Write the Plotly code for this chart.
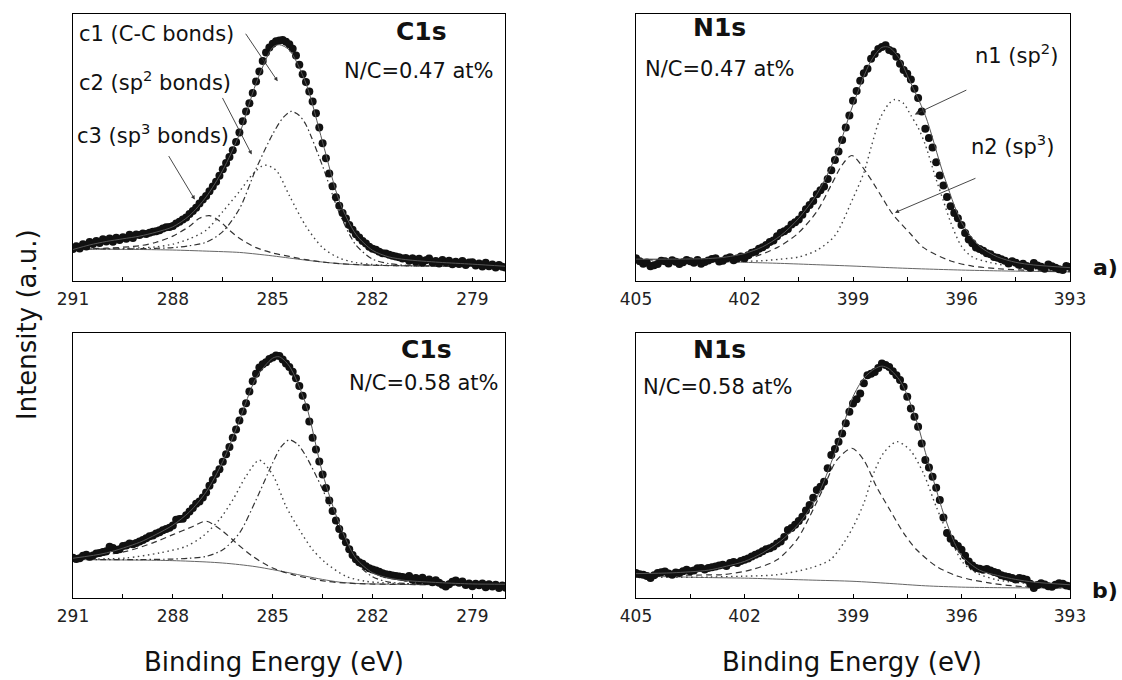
import plotly.graph_objects as go

# ---------------- energy grids of the measured spectra (eV) ----------------
C1S_E = [291.0, 290.9, 290.8, 290.7, 290.6, 290.5, 290.4, 290.3, 290.2, 290.1,
         290.0, 289.9, 289.8, 289.7, 289.6, 289.5, 289.4, 289.3, 289.2, 289.1,
         289.0, 288.9, 288.8, 288.7, 288.6, 288.5, 288.4, 288.3, 288.2, 288.1,
         288.0, 287.9, 287.8, 287.7, 287.6, 287.5, 287.4, 287.3, 287.2, 287.1,
         287.0, 286.9, 286.8, 286.7, 286.6, 286.5, 286.4, 286.3, 286.2, 286.1,
         286.0, 285.9, 285.8, 285.7, 285.6, 285.5, 285.4, 285.3, 285.2, 285.1,
         285.0, 284.9, 284.8, 284.7, 284.6, 284.5, 284.4, 284.3, 284.2, 284.1,
         284.0, 283.9, 283.8, 283.7, 283.6, 283.5, 283.4, 283.3, 283.2, 283.1,
         283.0, 282.9, 282.8, 282.7, 282.6, 282.5, 282.4, 282.3, 282.2, 282.1,
         282.0, 281.9, 281.8, 281.7, 281.6, 281.5, 281.4, 281.3, 281.2, 281.1,
         281.0, 280.9, 280.8, 280.7, 280.6, 280.5, 280.4, 280.3, 280.2, 280.1,
         280.0, 279.9, 279.8, 279.7, 279.6, 279.5, 279.4, 279.3, 279.2, 279.1,
         279.0, 278.9, 278.8, 278.7, 278.6, 278.5, 278.4, 278.3, 278.2, 278.1,
         278.0]
N1S_E = [405.0, 404.9, 404.8, 404.7, 404.6, 404.5, 404.4, 404.3, 404.2, 404.1,
         404.0, 403.9, 403.8, 403.7, 403.6, 403.5, 403.4, 403.3, 403.2, 403.1,
         403.0, 402.9, 402.8, 402.7, 402.6, 402.5, 402.4, 402.3, 402.2, 402.1,
         402.0, 401.9, 401.8, 401.7, 401.6, 401.5, 401.4, 401.3, 401.2, 401.1,
         401.0, 400.9, 400.8, 400.7, 400.6, 400.5, 400.4, 400.3, 400.2, 400.1,
         400.0, 399.9, 399.8, 399.7, 399.6, 399.5, 399.4, 399.3, 399.2, 399.1,
         399.0, 398.9, 398.8, 398.7, 398.6, 398.5, 398.4, 398.3, 398.2, 398.1,
         398.0, 397.9, 397.8, 397.7, 397.6, 397.5, 397.4, 397.3, 397.2, 397.1,
         397.0, 396.9, 396.8, 396.7, 396.6, 396.5, 396.4, 396.3, 396.2, 396.1,
         396.0, 395.9, 395.8, 395.7, 395.6, 395.5, 395.4, 395.3, 395.2, 395.1,
         395.0, 394.9, 394.8, 394.7, 394.6, 394.5, 394.4, 394.3, 394.2, 394.1,
         394.0, 393.9, 393.8, 393.7, 393.6, 393.5, 393.4, 393.3, 393.2, 393.1,
         393.0]

# ---------------- measured intensities (a.u.) ----------------
C1S_A = [12.0, 13.0, 12.2, 13.8, 12.9, 14.6, 13.9, 15.0, 14.2, 15.6,
         14.8, 15.9, 14.7, 16.2, 15.4, 16.4, 15.8, 17.3, 16.1, 17.4,
         17.2, 17.8, 17.6, 18.1, 18.4, 18.6, 19.0, 19.7, 20.1, 20.2,
         20.6, 21.5, 22.2, 23.0, 23.8, 25.1, 26.2, 27.4, 29.0, 30.5,
         31.8, 33.6, 35.4, 37.2, 39.4, 41.9, 44.2, 46.4, 49.0, 52.1,
         55.6, 59.8, 63.5, 66.6, 70.4, 74.7, 78.5, 82.4, 85.6, 87.5,
         88.9, 89.8, 90.1, 90.3, 89.6, 88.7, 87.0, 84.5, 81.0, 77.4,
         74.5, 71.0, 67.2, 62.8, 57.5, 51.6, 46.0, 40.3, 35.5, 31.4,
         28.2, 25.5, 23.4, 21.0, 19.2, 17.5, 16.3, 15.0, 14.0, 12.8,
         12.1, 11.7, 11.0, 10.4, 10.3, 9.8, 9.5, 9.2, 8.9, 8.4,
         8.6, 7.6, 8.5, 7.2, 8.3, 6.9, 7.8, 8.4, 6.9, 7.5,
         6.6, 7.9, 7.0, 7.6, 6.3, 7.2, 6.4, 7.5, 6.0, 6.9,
         7.0, 5.8, 6.6, 5.4, 6.8, 5.5, 6.2, 5.1, 6.0, 5.3,
         5.0]
N1S_A = [8.5, 7.4, 6.5, 6.9, 5.5, 5.9, 6.4, 7.6, 7.4, 6.6,
         7.8, 7.2, 6.4, 7.0, 7.9, 7.4, 6.8, 7.9, 6.5, 7.1,
         7.7, 8.2, 8.5, 7.3, 7.6, 8.4, 8.9, 7.8, 8.4, 9.2,
         8.5, 9.6, 10.6, 11.0, 12.1, 12.6, 13.5, 14.6, 15.2, 16.8,
         18.1, 18.6, 19.5, 21.2, 22.0, 23.0, 24.8, 26.9, 28.5, 30.0,
         32.5, 34.0, 35.4, 38.2, 41.5, 45.3, 48.5, 52.8, 57.5, 62.0,
         67.5, 71.2, 75.0, 77.8, 79.5, 83.2, 85.0, 86.9, 87.6, 88.3,
         86.5, 86.0, 84.0, 81.4, 79.0, 77.6, 75.5, 72.0, 68.5, 63.5,
         57.0, 53.6, 50.0, 44.5, 39.5, 35.8, 31.5, 28.0, 25.5, 23.5,
         21.0, 18.0, 15.5, 14.1, 12.5, 12.0, 11.3, 10.4, 10.0, 9.0,
         8.7, 8.1, 7.6, 6.6, 7.4, 6.8, 6.0, 6.5, 5.6, 5.0,
         6.7, 5.8, 5.3, 4.6, 6.2, 5.5, 5.0, 4.4, 4.1, 5.6,
         5.2]
C1S_B = [15.2, 14.7, 15.0, 15.9, 16.3, 15.6, 16.0, 16.8, 17.0, 17.4,
         17.6, 19.3, 18.9, 18.1, 18.4, 19.6, 19.8, 20.6, 20.3, 20.8,
         21.3, 21.9, 22.5, 23.3, 23.6, 24.3, 24.8, 25.6, 26.0, 26.5,
         27.4, 29.5, 29.8, 29.9, 31.2, 32.6, 34.0, 35.6, 36.4, 37.9,
         39.8, 42.4, 44.5, 46.8, 48.6, 51.4, 54.2, 57.0, 60.5, 63.6,
         67.0, 70.4, 73.5, 77.9, 81.8, 84.6, 87.0, 88.2, 89.0, 90.2,
         90.8, 91.5, 91.3, 90.0, 88.5, 87.2, 85.4, 82.9, 80.0, 76.3,
         72.0, 66.6, 60.5, 56.0, 51.5, 46.6, 41.5, 36.8, 32.8, 29.2,
         26.0, 23.4, 21.0, 18.4, 16.2, 14.6, 13.5, 12.9, 12.0, 11.2,
         10.8, 10.4, 9.9, 9.3, 9.0, 8.8, 8.5, 8.3, 8.1, 7.9,
         7.6, 8.3, 6.9, 7.5, 6.6, 7.6, 6.4, 7.0, 5.9, 6.7,
         5.8, 5.0, 4.3, 5.2, 6.1, 6.6, 5.8, 6.2, 4.9, 5.5,
         4.4, 5.4, 4.8, 5.5, 4.1, 5.2, 4.3, 5.0, 3.8, 4.7,
         3.9]
N1S_B = [9.4, 9.0, 8.8, 8.3, 7.5, 8.6, 9.4, 9.7, 10.0, 9.2,
         8.8, 9.6, 9.4, 10.1, 10.7, 10.1, 10.4, 11.2, 11.3, 10.8,
         11.3, 11.6, 11.9, 12.3, 12.5, 12.1, 13.2, 13.6, 13.2, 14.0,
         14.4, 14.9, 15.7, 16.3, 16.9, 17.6, 18.4, 18.8, 19.4, 20.6,
         21.3, 23.0, 25.7, 26.4, 27.6, 29.1, 30.7, 33.0, 35.1, 37.8,
         40.8, 42.0, 43.9, 49.0, 54.0, 56.2, 59.0, 62.1, 65.9, 70.3,
         73.4, 75.0, 77.2, 81.0, 84.1, 84.6, 85.3, 86.8, 88.5, 87.9,
         87.2, 85.6, 84.1, 82.3, 79.7, 75.9, 71.5, 68.4, 64.6, 58.3,
         52.1, 49.2, 45.8, 41.6, 37.0, 30.4, 24.5, 22.4, 20.7, 19.6,
         18.2, 15.9, 13.8, 12.3, 11.3, 11.0, 10.7, 10.9, 10.4, 9.8,
         9.4, 8.6, 8.2, 7.9, 7.5, 7.0, 7.5, 7.3, 6.9, 5.4,
         3.8, 4.9, 5.6, 5.1, 4.4, 4.2, 5.0, 5.6, 5.4, 4.7,
         4.4]

# ---------------- fitted curves, sample (energy, intensity) ----------------
# panel a), C1s
ENV_AC_E = [291, 290.5, 290, 289.5, 289, 288.5, 288, 287.5, 287, 286.5, 286, 285.5,
            285, 284.8, 284.5, 284, 283.5, 283, 282.5, 282, 281.5, 281, 280, 279, 278]
ENV_AC = [11.8, 13.5, 14.8, 15.8, 16.8, 18.3, 20.3, 24.5, 31.5, 41.5, 55, 74,
          87.5, 88.5, 86.5, 74, 52, 30, 17.5, 11.5, 9, 8, 7, 6.3, 5.5]
BG_AC_E = [291, 290, 289, 288, 287, 286, 285.5, 285, 284.5, 284, 283.5, 283,
           282.5, 282, 281, 280, 279, 278]
BG_AC = [12, 11.9, 11.8, 11.6, 11.2, 10.7, 10.1, 9.4, 8.6, 7.8, 7.1, 6.5,
         6.1, 5.9, 5.7, 5.6, 5.5, 5.4]
C1_AC_E = [291, 290, 289, 288, 287.5, 287, 286.5, 286, 285.5, 285, 284.7, 284.45,
           284.2, 284, 283.5, 283, 282.5, 282, 281.5, 281, 280, 279, 278]
C1_AC = [12, 12, 12.1, 12.5, 13.2, 14.5, 18.5, 27, 42, 55, 61, 63.5,
         62, 58.5, 43, 25.5, 13.5, 8.2, 6.5, 5.9, 5.6, 5.5, 5.4]
C2_AC_E = [291, 290, 289, 288.5, 288, 287.5, 287, 286.5, 286, 285.6, 285.25, 284.9,
           284.5, 284, 283.5, 283, 282.5, 282, 281, 280, 278]
C2_AC = [12, 12.1, 12.4, 12.8, 13.8, 15.8, 19, 26, 33.5, 40, 43.4, 41.5,
         32, 20.5, 12.5, 8.6, 6.9, 6.2, 5.7, 5.6, 5.4]
C3_AC_E = [291, 290, 289, 288.5, 288, 287.5, 287.2, 286.9, 286.6, 286.3, 286, 285.5,
           285, 284.5, 284, 283.5, 283, 282, 280, 278]
C3_AC = [12, 12.3, 13.2, 14.5, 16.8, 20.5, 23.5, 24.5, 22.5, 19, 16, 12.5,
         10.5, 9.2, 8, 7.1, 6.5, 5.9, 5.6, 5.4]

# panel a), N1s
ENV_AN_E = [405, 404, 403, 402.5, 402, 401.5, 401, 400.5, 400, 399.5, 399, 398.5,
            398.2, 398, 397.7, 397.5, 397, 396.5, 396, 395.5, 395, 394.5, 394, 393]
ENV_AN = [8.2, 8.2, 8.4, 9, 10.3, 12.8, 17, 23.5, 32.5, 46, 66, 82.5,
          87.5, 87.5, 83, 77, 62, 40, 22, 13, 9, 7, 6, 5]
BG_AN_E = [405, 404, 403, 402, 401, 400, 399, 398, 397, 396, 395, 394, 393]
BG_AN = [8.1, 7.8, 7.4, 7, 6.6, 6.1, 5.6, 5.0, 4.5, 4.1, 3.8, 3.6, 3.4]
N1_AN_E = [405, 404, 403, 402, 401.5, 401, 400.5, 400, 399.5, 399, 398.7, 398.5,
           398.25, 398, 397.84, 397.6, 397.4, 397.2, 397, 396.7, 396.5, 396.3, 396,
           395.7, 395.2, 394.5, 394, 393]
N1_AN = [8, 7.8, 7.5, 7.4, 7.6, 8.2, 9, 11.5, 17, 31, 40.5, 50,
         61, 66.5, 68, 66.5, 62, 57.5, 51, 38, 30, 22, 13,
         9, 6.9, 5.3, 4.6, 3.5]
N2_AN_E = [405, 404, 403, 402, 401.8, 401.1, 400.55, 400, 399.6, 399.3, 399.03, 398.6,
           398.25, 397.9, 397.4, 397.05, 396.3, 395.7, 395, 394, 393]
N2_AN = [8, 8, 8.2, 8.6, 8.8, 12.5, 17.5, 26, 36, 43.5, 47, 40,
         32.5, 25, 17.5, 12.5, 7.5, 5.6, 4.6, 3.9, 3.5]

# panel b), C1s
ENV_BC_E = [291, 290, 289, 288.5, 288, 287.5, 287, 286.5, 286, 285.5, 285, 284.8,
            284.5, 284, 283.5, 283, 282.5, 282, 281.5, 281, 280, 279, 278]
ENV_BC = [15, 17, 21, 24, 27.5, 32.5, 40, 51.5, 67, 83, 90.5, 91,
          87.5, 73, 47, 28, 15, 9.5, 7.5, 6.6, 5.8, 5.3, 5.2]
BG_BC_E = [291, 290, 289, 288, 287, 286.5, 286, 285.5, 285, 284.5, 284, 283.5,
           283, 282.5, 282, 281, 280, 278]
BG_BC = [14.5, 14.4, 14.3, 14.1, 13.6, 13.2, 12.6, 11.8, 10.7, 9.5, 8.2, 7,
         6, 5.5, 5.3, 5.1, 5, 5]
C1_BC_E = [291, 289, 288, 287.5, 287, 286.5, 286, 285.5, 285, 284.75, 284.5, 284.25,
           284, 283.5, 283, 282.5, 282, 281.5, 281, 280, 278]
C1_BC = [14.5, 14.5, 14.7, 15, 15.7, 18.2, 24.5, 37, 51, 57, 59.7, 58,
         53.5, 41, 26, 13.5, 8, 6, 5.5, 5.1, 5]
C2_BC_E = [291, 290, 289.4, 288.4, 287.6, 287.1, 286.6, 286.2, 285.8, 285.4, 285, 284.6,
           284.2, 283.8, 283.4, 282.8, 282.2, 281, 280, 278]
C2_BC = [14.6, 14.8, 15.1, 17, 19.5, 23.3, 29.6, 37, 46, 52, 46.5, 34.6,
         25.8, 18.2, 13.2, 8.2, 6.3, 5.3, 5.1, 5]
C3_BC_E = [291, 290.4, 289.4, 288.6, 288, 287.4, 287, 286.5, 286.1, 285.6, 285, 284.4,
           283.4, 282.4, 281, 280, 278]
C3_BC = [14.7, 15.7, 17.6, 20.8, 23.9, 27, 29, 25.2, 20.8, 15.7, 11.3, 8.8,
         6.3, 5.4, 5.1, 5, 5]

# panel b), N1s
ENV_BN_E = [405, 404, 403, 402.5, 402, 401.5, 401, 400.5, 400, 399.5, 399.2, 399,
            398.7, 398.4, 398.2, 398, 397.7, 397.5, 397.2, 397, 396.7, 396.5, 396.2,
            396, 395.5, 395, 394.5, 394, 393]
ENV_BN = [9.2, 9.5, 10.5, 12, 13.8, 17, 21.5, 28, 38, 55, 68, 76,
          83, 86.5, 87.5, 86.5, 82, 76.5, 65, 55, 41, 32, 21,
          16, 10.5, 8.5, 7, 6, 5]
BG_BN_E = [405, 404, 403, 402, 401, 400, 399, 398, 397, 396, 395, 394, 393]
BG_BN = [8.2, 8, 7.7, 7.5, 7.1, 6.7, 6.3, 5.5, 4.6, 4.1, 3.9, 3.8, 3.8]
N1_BN_E = [405, 403, 402.1, 401.1, 400.18, 399.63, 399.26, 398.99, 398.7, 398.43, 398.16,
           397.79, 397.42, 397.05, 396.7, 396.3, 395.95, 395.58, 395.03, 394.3, 393]
N1_BN = [7.8, 7.9, 8.2, 8.8, 11.3, 14.4, 20.7, 27, 35.8, 47, 54.6,
         59, 55.8, 47, 34.5, 22, 13.2, 9.4, 6.9, 5.6, 4.5]
N2_BN_E = [405, 404, 403, 402.6, 401.8, 401.1, 400.55, 400.2, 399.8, 399.45, 399.03,
           398.7, 398.35, 397.97, 397.6, 397.24, 396.7, 396.1, 395.2, 394.3, 393]
N2_BN = [8.5, 8.6, 8.7, 8.8, 10.7, 14.4, 22, 30.7, 42, 52, 56.5,
         52, 42, 33, 24.5, 18.2, 12, 8.2, 5.6, 4.3, 3.8]

# ---------------- axis ticks ----------------
C1S_TICKS = [291, 288, 285, 282, 279]
C1S_MINOR = [289.5, 286.5, 283.5, 280.5]
N1S_TICKS = [405, 402, 399, 396, 393]
N1S_MINOR = [403.5, 400.5, 397.5, 394.5]

FONT = "DejaVu Sans"
DOT = "1.5px,3.5px"
DASH = "6px,4px"
DASHDOT = "6px,3px,1.5px,3px"

fig = go.Figure()


def axis_names(i):
    return ("x", "y") if i == 1 else (f"x{i}", f"y{i}")


def line(i, ex, iy, dash="solid", color="#333", width=1.2):
    xa, ya = axis_names(i)
    fig.add_trace(go.Scatter(x=ex, y=iy, xaxis=xa, yaxis=ya, mode="lines",
                             line=dict(color=color, width=width, dash=dash,
                                       shape="spline", smoothing=0.8),
                             hoverinfo="skip", showlegend=False))


def dots(i, ex, iy):
    xa, ya = axis_names(i)
    fig.add_trace(go.Scatter(x=ex, y=iy, xaxis=xa, yaxis=ya, mode="markers",
                             marker=dict(color="#111", size=8, line=dict(width=0)),
                             showlegend=False))


# panel 1: a) C1s
line(1, BG_AC_E, BG_AC, color="#666", width=1)
line(1, C3_AC_E, C3_AC, DASH)
line(1, C2_AC_E, C2_AC, DOT, "#444", 1.4)
line(1, C1_AC_E, C1_AC, DASHDOT)
dots(1, C1S_E, C1S_A)
line(1, ENV_AC_E, ENV_AC, color="#555", width=1)

# panel 2: a) N1s
line(2, BG_AN_E, BG_AN, color="#666", width=1)
line(2, N2_AN_E, N2_AN, DASH)
line(2, N1_AN_E, N1_AN, DOT, "#444", 1.4)
dots(2, N1S_E, N1S_A)
line(2, ENV_AN_E, ENV_AN, color="#555", width=1)

# panel 3: b) C1s
line(3, BG_BC_E, BG_BC, color="#666", width=1)
line(3, C3_BC_E, C3_BC, DASH)
line(3, C2_BC_E, C2_BC, DOT, "#444", 1.4)
line(3, C1_BC_E, C1_BC, DASHDOT)
dots(3, C1S_E, C1S_B)
line(3, ENV_BC_E, ENV_BC, color="#555", width=1)

# panel 4: b) N1s
line(4, BG_BN_E, BG_BN, color="#666", width=1)
line(4, N2_BN_E, N2_BN, DASH)
line(4, N1_BN_E, N1_BN, DOT, "#444", 1.4)
dots(4, N1S_E, N1S_B)
line(4, ENV_BN_E, ENV_BN, color="#555", width=1)

X_LEFT = [73 / 1122, 505 / 1122]
X_RIGHT = [636 / 1122, 1070 / 1122]
Y_TOP = [1 - 281 / 680, 1 - 14 / 680]
Y_BOT = [1 - 598 / 680, 1 - 333 / 680]


def xaxis(domain, rng, ticks, minor, anchor):
    return dict(domain=domain, range=rng, anchor=anchor, tickmode="array",
                tickvals=ticks, ticks="inside", ticklen=4, ticklabelstandoff=3,
                tickcolor="black", tickwidth=1, showline=True, linecolor="black",
                linewidth=1, mirror=True, showgrid=False, zeroline=False,
                automargin=False,
                minor=dict(tickmode="array", tickvals=minor, ticks="inside",
                           ticklen=4, tickwidth=1, tickcolor="black", showgrid=False),
                tickfont=dict(family=FONT, size=17, color="#222"))


def yaxis(domain, anchor):
    return dict(domain=domain, range=[0, 100], anchor=anchor, showticklabels=False,
                ticks="", showline=True, linecolor="black", linewidth=1, mirror=True,
                showgrid=False, zeroline=False, automargin=False)


def label(i, x, y, text, size=21, bold=False, xanchor="center"):
    xa, ya = axis_names(i)
    return dict(x=x, y=y, xref=xa, yref=ya, text=text, showarrow=False,
                xanchor=xanchor, yanchor="middle",
                font=dict(family=FONT, size=size, color="#111",
                          weight="bold" if bold else "normal"))


def pointer(i, x, y, ax, ay):
    xa, ya = axis_names(i)
    return dict(x=x, y=y, xref=xa, yref=ya, text="", showarrow=True, ax=ax, ay=ay,
                arrowhead=2, arrowsize=0.9, arrowwidth=0.9, arrowcolor="#333")


def paper_text(x, y, text, size, bold=False, angle=0):
    return dict(x=x, y=y, xref="paper", yref="paper", text=text, showarrow=False,
                textangle=angle, xanchor="center", yanchor="middle",
                font=dict(family=FONT, size=size, color="#111",
                          weight="bold" if bold else "normal"))


annotations = [
    label(1, 280.53, 93.6, "C1s", 25, True),
    label(1, 280.59, 78.6, "N/C=0.47 at%", 21),
    label(1, 290.88, 92.5, "c1 (C-C bonds)", 21, xanchor="left"),
    label(1, 290.88, 74.8, "c2 (sp<sup>2</sup> bonds)", 21, xanchor="left"),
    label(1, 290.94, 54.9, "c3 (sp<sup>3</sup> bonds)", 21, xanchor="left"),
    pointer(1, 284.85, 74.8, -33, -49),
    pointer(1, 285.63, 47.4, -30, -58),
    pointer(1, 287.34, 30.5, -27, -45),
    label(2, 402.68, 95.1, "N1s", 25, True),
    label(2, 402.68, 79.3, "N/C=0.47 at%", 21),
    label(2, 394.47, 85.0, "n1 (sp<sup>2</sup>)", 21),
    label(2, 394.60, 51.1, "n2 (sp<sup>3</sup>)", 21),
    pointer(2, 397.29, 62.4, 53, -25),
    pointer(2, 397.84, 25.6, 82, -35),
    label(3, 280.38, 93.6, "C1s", 25, True),
    label(3, 280.44, 81.1, "N/C=0.58 at%", 21),
    label(4, 402.68, 93.6, "N1s", 25, True),
    label(4, 402.73, 79.6, "N/C=0.58 at%", 21),
    paper_text(1105 / 1122, 1 - 268 / 680, "a)", 22, True),
    paper_text(1105 / 1122, 1 - 590 / 680, "b)", 22, True),
    paper_text(274 / 1122, 1 - 662 / 680, "Binding Energy (eV)", 26),
    paper_text(852 / 1122, 1 - 662 / 680, "Binding Energy (eV)", 26),
    paper_text(27 / 1122, 1 - 325 / 680, "Intensity (a.u.)", 26, angle=-90),
]

fig.update_layout(
    width=1122, height=680,
    margin=dict(l=0, r=0, t=0, b=0, pad=0),
    paper_bgcolor="white", plot_bgcolor="white",
    showlegend=False,
    xaxis=xaxis(X_LEFT, [291, 278.02], C1S_TICKS, C1S_MINOR, "y"),
    yaxis=yaxis(Y_TOP, "x"),
    xaxis2=xaxis(X_RIGHT, [405, 393], N1S_TICKS, N1S_MINOR, "y2"),
    yaxis2=yaxis(Y_TOP, "x2"),
    xaxis3=xaxis(X_LEFT, [291, 278.02], C1S_TICKS, C1S_MINOR, "y3"),
    yaxis3=yaxis(Y_BOT, "x3"),
    xaxis4=xaxis(X_RIGHT, [405, 393], N1S_TICKS, N1S_MINOR, "y4"),
    yaxis4=yaxis(Y_BOT, "x4"),
    annotations=annotations,
)

fig.write_html("out.html")
